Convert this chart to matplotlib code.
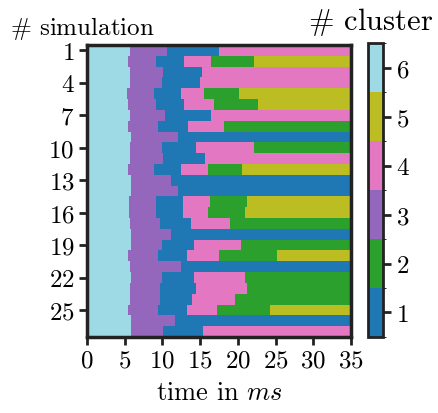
import numpy as np
import matplotlib.pyplot as plt
from matplotlib.colors import ListedColormap, BoundaryNorm
from matplotlib.cm import ScalarMappable

plt.rcParams['font.family'] = 'serif'
plt.rcParams['font.serif'] = ['cmr10']
plt.rcParams['mathtext.fontset'] = 'cm'
plt.rcParams['axes.formatter.use_mathtext'] = True

# --- cluster colours (1..6)
cluster_ids = [1, 2, 3, 4, 5, 6]
cluster_colors = ['#1f77b4', '#2ca02c', '#9467bd', '#e377c2', '#bcbd22', '#9edae5']

t_end = 35.0

# --- cluster sequence per simulation and times (ms) at which it changes
seq = [
    [6, 3, 1, 4],
    [6, 3, 1, 4, 2, 5],
    [6, 3, 1, 4],
    [6, 3, 1, 4],
    [6, 3, 1, 4, 2, 5],
    [6, 3, 1, 4, 2, 5],
    [6, 3, 1, 4],
    [6, 3, 1, 4, 2],
    [6, 3, 1],
    [6, 3, 1, 4, 2],
    [6, 3, 1, 4],
    [6, 3, 1, 4, 2, 5],
    [6, 3, 1],
    [6, 3, 1],
    [6, 3, 1, 4, 2, 5],
    [6, 3, 1, 4, 2, 5],
    [6, 3, 1, 4, 2],
    [6, 3, 1],
    [6, 3, 1, 4, 2],
    [6, 3, 1, 4, 2, 5],
    [6, 3, 1],
    [6, 3, 1, 4, 2],
    [6, 3, 1, 4, 2],
    [6, 3, 1, 4, 2],
    [6, 3, 1, 4, 2, 5],
    [6, 3, 1],
    [6, 3, 1, 4],
]
switch = [
    [5.7, 10.6, 17.5],
    [5.5, 9.1, 12.9, 16.5, 22.2],
    [5.7, 10.1, 15.3],
    [5.7, 9.9, 15.0],
    [5.3, 8.9, 12.4, 15.5, 20.1],
    [5.5, 9.1, 12.9, 16.8, 22.7],
    [5.7, 10.4, 16.5],
    [5.5, 9.4, 13.4, 18.1],
    [5.9, 12.1],
    [5.7, 9.9, 14.5, 22.2],
    [5.7, 10.1, 15.7],
    [5.5, 8.9, 12.4, 16.0, 20.6],
    [5.9, 11.1],
    [5.9, 12.1],
    [5.6, 9.1, 12.7, 16.3, 21.2],
    [5.6, 9.1, 12.7, 16.0, 20.9],
    [5.7, 9.7, 13.8, 18.9],
    [5.9, 11.1],
    [5.8, 9.9, 14.2, 20.4],
    [5.5, 9.4, 13.2, 17.5, 25.2],
    [5.7, 12.4],
    [5.8, 9.9, 14.2, 20.9],
    [5.7, 9.7, 14.5, 21.2],
    [5.7, 9.7, 13.9, 19.6],
    [5.5, 9.4, 13.2, 17.3, 24.2],
    [5.8, 11.7],
    [5.8, 10.1, 15.4],
]
sim_ids = np.arange(1, len(seq) + 1)
ytick_vals = [1, 4, 7, 10, 13, 16, 19, 22, 25]
xtick_vals = [0, 5, 10, 15, 20, 25, 30, 35]

cmap = ListedColormap(cluster_colors)
norm = BoundaryNorm(np.arange(0.5, 7.5, 1), cmap.N)

fs = 18

fig = plt.figure(figsize=(4.38, 4.14), dpi=100)
ax = fig.add_axes([0.1986, 0.1836, 0.6027, 0.7053])

for sim, labels, times in zip(sim_ids, seq, switch):
    edges = [0.0] + list(times) + [t_end]
    starts = np.array(edges[:-1])
    widths = np.diff(edges)
    ax.barh([sim] * len(labels), widths, left=starts, height=1.0,
            color=[cmap(norm(c)) for c in labels], linewidth=0)

ax.set_xlim(0, t_end)
ax.set_ylim(len(seq) + 0.5, 0.5)
ax.set_xticks(xtick_vals)
ax.set_yticks(ytick_vals)
ax.tick_params(labelsize=fs, width=2, length=6, color='#222222', pad=3)
for s in ax.spines.values():
    s.set_linewidth(2.5)
    s.set_color('#222222')
ax.set_xlabel(r'time in $ms$', fontsize=19, labelpad=6)
fig.text(0.023, 0.932, r'$\#$ simulation', fontsize=fs, ha='left', va='center')

cax = fig.add_axes([0.840, 0.1836, 0.034, 0.7100])
cb = fig.colorbar(ScalarMappable(norm=norm, cmap=cmap), cax=cax, ticks=cluster_ids)
cb.outline.set_linewidth(2)
cb.outline.set_edgecolor('#222222')
cax.tick_params(labelsize=fs, width=2, length=6, color='#222222')
fig.text(0.99, 0.948, r'$\#$ cluster', fontsize=22, ha='right', va='center')

plt.savefig('out.png', dpi=100)
